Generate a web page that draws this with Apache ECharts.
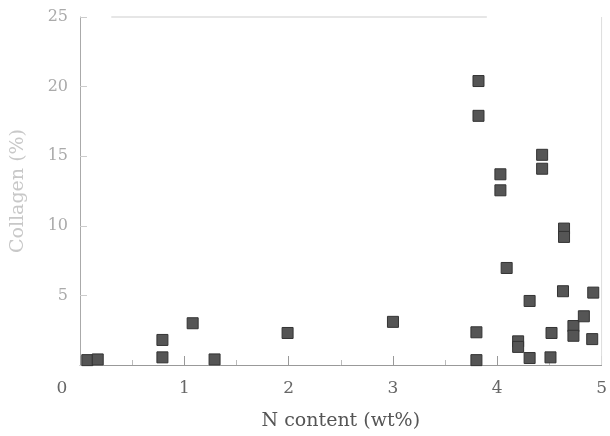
<!DOCTYPE html>
<html>
<head>
    <meta charset="UTF-8">
    <script src="https://cdn.jsdelivr.net/npm/echarts@6/dist/echarts.min.js"></script>
    <style>
        html, body { margin: 0; padding: 0; background: #fff; }
        #main { width: 610px; height: 436px; }
    </style>
</head>
<body>
<div id="main"></div>
<script>
    // N content (wt%) and collagen (%)
    var nContent = [0.07, 0.17, 0.79, 0.79, 1.08, 1.29, 1.99, 3.0,
                    3.82, 3.82, 3.8, 3.8, 4.03, 4.03, 4.09, 4.31,
                    4.2, 4.2, 4.31, 4.43, 4.43, 4.52, 4.51, 4.64,
                    4.64, 4.63, 4.73, 4.73, 4.83, 4.92, 4.91];
    var collagen = [0.35, 0.4, 1.8, 0.55, 3.0, 0.4, 2.3, 3.1,
                    20.4, 17.9, 2.35, 0.35, 13.7, 12.55, 6.97, 4.6,
                    1.7, 1.3, 0.5, 15.1, 14.1, 2.3, 0.55, 9.8,
                    9.2, 5.3, 2.8, 2.1, 3.5, 5.2, 1.86];
    var xTicks = [0, 1, 2, 3, 4, 5];
    var yTicks = [0, 5, 10, 15, 20, 25];

    var points = nContent.map(function (x, i) { return [x, collagen[i]]; });

    var serif = '"DejaVu Serif", "Liberation Serif", serif';

    var myChart = echarts.init(document.getElementById('main'));
    var option = {
        backgroundColor: '#fff',
        animation: false,
        grid: { left: 80, right: 6, top: 17, bottom: 60 },
        xAxis: {
            type: 'value',
            min: xTicks[0],
            max: xTicks[xTicks.length - 1],
            interval: 1,
            name: 'N content (wt%)',
            nameLocation: 'middle',
            nameGap: 47,
            nameTextStyle: { fontFamily: serif, fontSize: 19, color: '#555' },
            axisLine: { lineStyle: { color: '#999', width: 1 } },
            axisTick: { inside: true, length: 9, lineStyle: { color: '#999' } },
            minorTick: { show: true, splitNumber: 2, length: 5, lineStyle: { color: '#bbb' } },
            splitLine: { show: false },
            axisLabel: {
                margin: 15,
                fontFamily: serif, fontSize: 17, color: '#666',
                formatter: function (v) { return v === 0 ? '{z|0}' : String(v); },
                rich: { z: { fontFamily: serif, fontSize: 17, color: '#666', padding: [0, 36, 0, 0] } }
            }
        },
        yAxis: {
            type: 'value',
            min: yTicks[0],
            max: yTicks[yTicks.length - 1],
            interval: 5,
            name: 'Collagen (%)',
            nameLocation: 'middle',
            nameGap: 52,
            nameTextStyle: { fontFamily: serif, fontSize: 19, color: '#c8c8c8' },
            axisLine: { show: true, lineStyle: { color: '#aaa', width: 1 } },
            axisTick: { inside: true, length: 7, lineStyle: { color: '#ccc' } },
            splitLine: { show: false },
            axisLabel: {
                margin: 12,
                fontFamily: serif, fontSize: 16, color: '#aaa',
                formatter: function (v) { return v === 0 ? '' : String(v); }
            }
        },
        series: [{
            type: 'scatter',
            symbol: 'rect',
            symbolSize: 11,
            data: points,
            itemStyle: { color: '#555', borderColor: '#333', borderWidth: 1, opacity: 1 }
        }, {
            // faint frame of the scanned plot (top and right edges)
            type: 'line',
            data: [[0.3, 25], [3.9, 25]],
            symbol: 'none',
            silent: true,
            lineStyle: { color: '#e6e6e6', width: 2 }
        }, {
            type: 'line',
            data: [[5, 0], [5, 25]],
            symbol: 'none',
            silent: true,
            lineStyle: { color: '#ddd', width: 1 }
        }]
    };
    myChart.setOption(option);
</script>
</body>
</html>
